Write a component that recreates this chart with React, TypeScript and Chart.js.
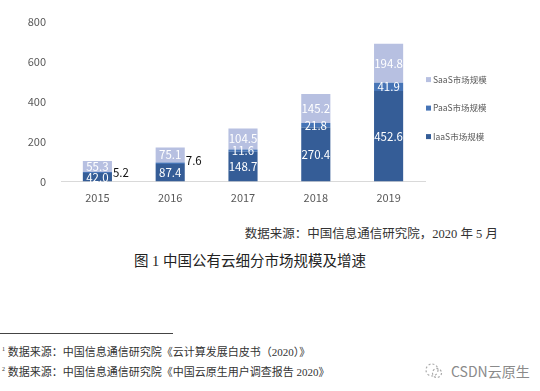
import React, { useEffect, useRef } from "react";
import { Chart, registerables } from "chart.js";

Chart.register(...registerables);

const years = ["2015", "2016", "2017", "2018", "2019"];
const iaas = [42.0, 87.4, 148.7, 270.4, 452.6];
const paas = [5.2, 7.6, 11.6, 21.8, 41.9];
const saas = [55.3, 75.1, 104.5, 145.2, 194.8];
const yTicks = [0, 200, 400, 600, 800];
const legendNames = ["SaaS市场规模", "PaaS市场规模", "IaaS市场规模"];

const C_IAAS = "#355d97";
const C_PAAS = "#4674b6";
const C_SAAS = "#b7c0e1";
const SANS = '"Noto Sans CJK SC", "Open Sans", sans-serif';
const SERIF = '"Liberation Serif", "Noto Sans CJK SC", serif';

const labelPlugin = {
  id: "segLabels",
  afterDatasetsDraw(chart: any) {
    const ctx = chart.ctx;
    ctx.save();
    ctx.font = `11.5px ${SANS}`;
    ctx.textBaseline = "middle";
    chart.data.datasets.forEach((ds: any, di: number) => {
      const meta = chart.getDatasetMeta(di);
      meta.data.forEach((bar: any, i: number) => {
        const v = ds.data[i] as number;
        const p = bar.getProps(["x", "y", "base", "width"], true);
        const h = Math.abs(p.base - p.y);
        const cy = (p.y + p.base) / 2;
        const text = v.toFixed(1);
        if (h < 2) {
          ctx.fillStyle = "#111";
          ctx.textAlign = "left";
          ctx.fillText(text, p.x + p.width / 2 + 1, cy - (i === 1 ? 3 : 0));
        } else {
          ctx.fillStyle = "#ffffff";
          ctx.textAlign = "center";
          ctx.fillText(text, p.x, cy);
        }
      });
    });
    // legend (drawn beside the plot)
    const area = chart.chartArea;
    const colors = [C_SAAS, C_PAAS, C_IAAS];
    ctx.font = `8.5px ${SANS}`;
    ctx.textAlign = "left";
    legendNames.forEach((name, k) => {
      const ly = area.top + 58 + k * 28.5;
      ctx.fillStyle = colors[k];
      ctx.fillRect(area.right + 1, ly - 2.5, 5, 5);
      ctx.fillStyle = "#595959";
      ctx.fillText(name, area.right + 8, ly);
    });
    ctx.restore();
  },
};

function App() {
  const ref = useRef<HTMLCanvasElement | null>(null);
  useEffect(() => {
    if (!ref.current) return;
    const chart = new Chart(ref.current, {
      type: "bar",
      data: {
        labels: years,
        datasets: [
          { label: "IaaS市场规模", data: iaas, backgroundColor: C_IAAS },
          { label: "PaaS市场规模", data: paas, backgroundColor: C_PAAS },
          { label: "SaaS市场规模", data: saas, backgroundColor: C_SAAS },
        ],
      },
      options: {
        responsive: false,
        animation: false,
        devicePixelRatio: 1,
        layout: { padding: { top: 17, right: 115, left: 0, bottom: 0 } },
        datasets: { bar: { categoryPercentage: 1, barPercentage: 0.4 } } as any,
        plugins: {
          legend: { display: false },
          tooltip: { enabled: false },
        },
        scales: {
          x: {
            stacked: true,
            grid: { display: false, drawTicks: false },
            border: { display: true, color: "#d9d9d9", width: 1 },
            ticks: {
              color: "#595959",
              font: { size: 11, family: SANS },
              padding: 10,
            },
            afterFit: (s: any) => {
              s.height = 33.5;
            },
          },
          y: {
            stacked: true,
            min: 0,
            max: 800,
            afterBuildTicks: (s: any) => {
              s.ticks = yTicks.map((v) => ({ value: v }));
            },
            grid: { display: false, drawTicks: false },
            border: { display: false },
            ticks: {
              color: "#595959",
              font: { size: 11, family: SANS },
              padding: 15,
            },
            afterFit: (s: any) => {
              s.width = 61;
            },
          },
        },
      },
      plugins: [labelPlugin],
    });
    return () => chart.destroy();
  }, []);

  return (
    <div
      style={{
        position: "absolute",
        left: 0,
        top: 0,
        width: 540,
        height: 391,
        background: "#ffffff",
        overflow: "hidden",
      }}
    >
      <canvas ref={ref} width={540} height={215} style={{ position: "absolute", left: 0, top: 0 }} />
      <div
        style={{
          position: "absolute",
          right: 42,
          top: 223,
          font: `12.5px ${SERIF}`,
          color: "#333",
          whiteSpace: "nowrap",
        }}
      >
        数据来源：中国信息通信研究院，2020 年 5 月
      </div>
      <div
        style={{
          position: "absolute",
          left: 134,
          top: 249,
          font: `14.5px ${SERIF}`,
          color: "#222",
          whiteSpace: "nowrap",
        }}
      >
        图 1 中国公有云细分市场规模及增速
      </div>
      <div
        style={{
          position: "absolute",
          left: 0,
          top: 333,
          width: 173,
          height: 1,
          background: "#444",
        }}
      />
      <div
        style={{
          position: "absolute",
          left: 2,
          top: 341,
          font: `11px ${SERIF}`,
          color: "#333",
          whiteSpace: "nowrap",
          lineHeight: "17px",
        }}
      >
        <div>
          <sup style={{ fontSize: 6 }}>1</sup> 数据来源：中国信息通信研究院《云计算发展白皮书（2020）》
        </div>
        <div>
          <sup style={{ fontSize: 6 }}>2</sup> 数据来源：中国信息通信研究院《中国云原生用户调查报告 2020》
        </div>
      </div>
      <svg
        width="20"
        height="18"
        viewBox="0 0 20 18"
        style={{ position: "absolute", left: 424, top: 362 }}
      >
        <circle cx="8" cy="8" r="6" fill="none" stroke="#aaa" strokeWidth="1.2" strokeDasharray="2 2" />
        <circle cx="13" cy="11" r="4.5" fill="none" stroke="#aaa" strokeWidth="1.2" strokeDasharray="2 2" />
      </svg>
      <div
        style={{
          position: "absolute",
          left: 451,
          top: 362,
          font: `14px ${SANS}`,
          color: "#8a8a8a",
          whiteSpace: "nowrap",
          lineHeight: "18px",
        }}
      >
        CSDN云原生
      </div>
    </div>
  );
}

export default App;
